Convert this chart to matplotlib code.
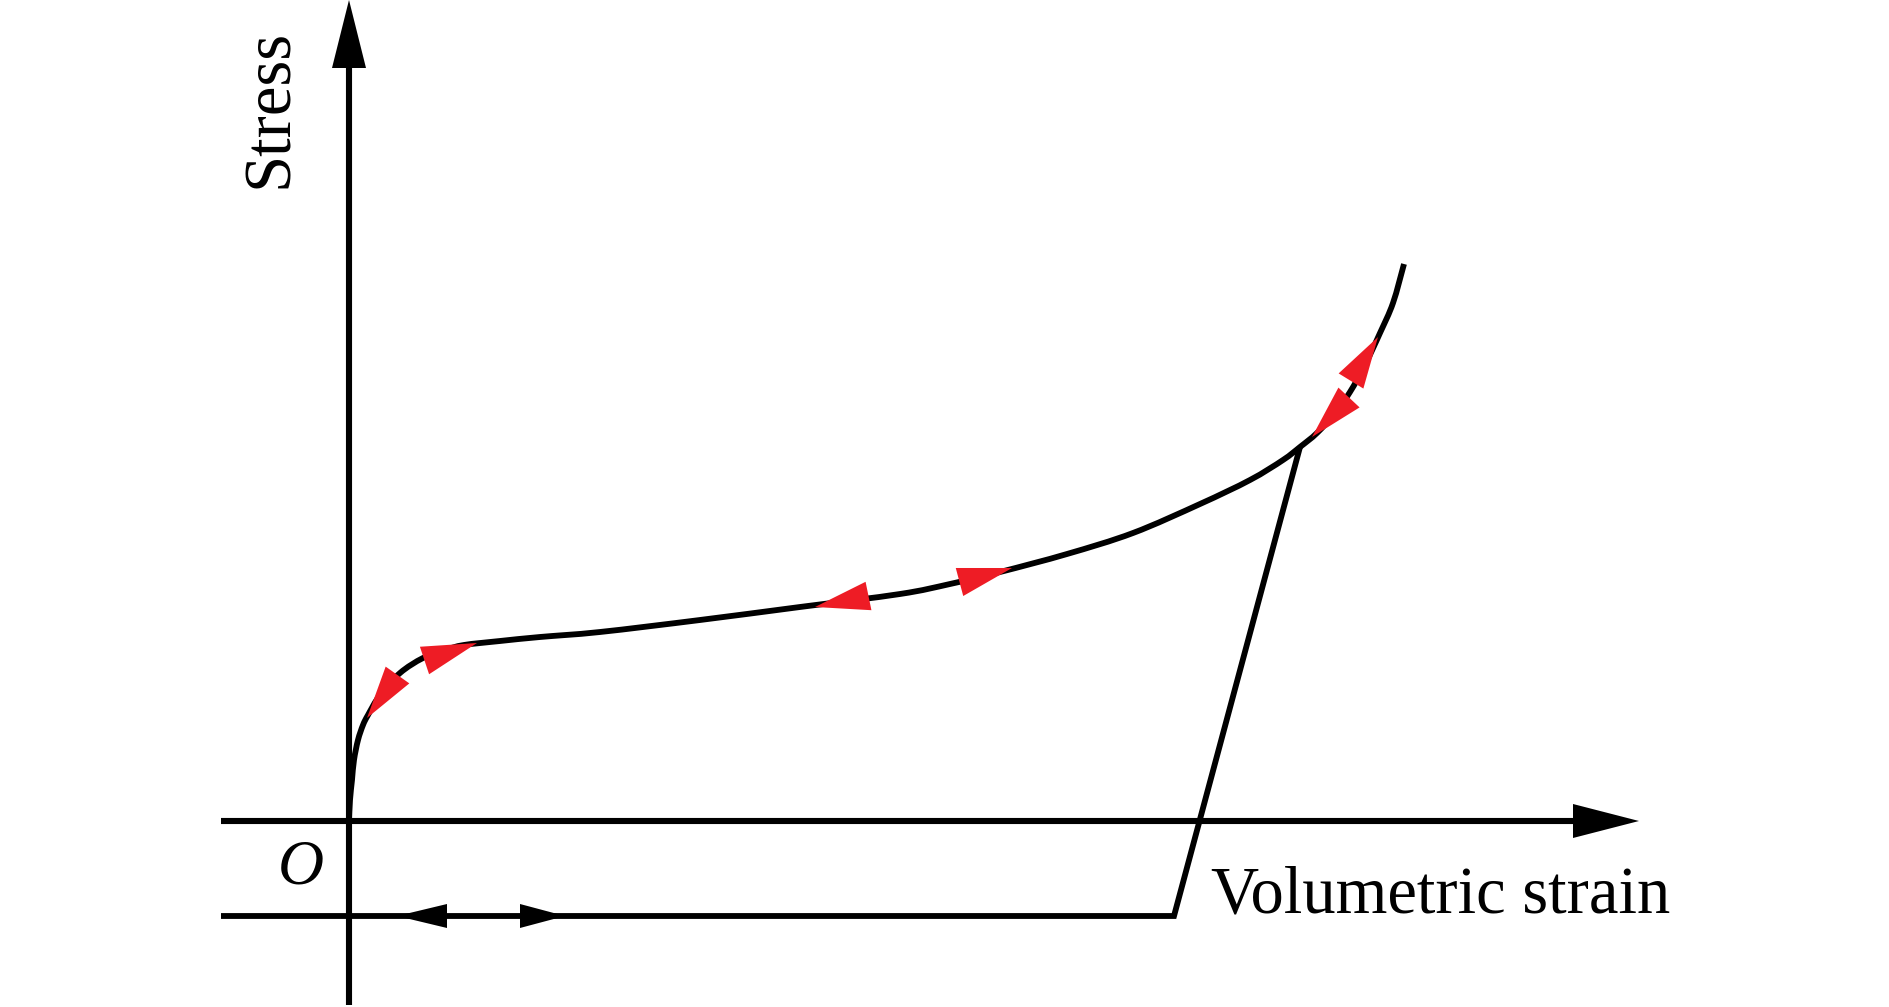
import numpy as np
import matplotlib.pyplot as plt
from matplotlib.path import Path
from matplotlib.patches import PathPatch

# Loading curve (volumetric strain vs stress), arbitrary units
strain = [0, 0.01, 0.03, 0.05, 0.09, 0.14, 0.19, 0.31, 0.51, 0.74, 0.96, 1.15, 1.51,
          1.91, 2.51, 3.51, 4.51, 5.51, 6.01, 6.51, 7.18, 7.84, 8.51, 9.01, 9.34,
          9.51, 9.68, 9.86, 10.01, 10.16, 10.31, 10.44, 10.55]
stress = [0, 0.21, 0.41, 0.61, 0.81, 0.96, 1.06, 1.26, 1.48, 1.63, 1.71, 1.76, 1.80,
          1.84, 1.89, 2.01, 2.14, 2.27, 2.37, 2.49, 2.67, 2.88, 3.17, 3.41, 3.61,
          3.74, 3.88, 4.08, 4.29, 4.56, 4.88, 5.18, 5.57]

# Unloading line and the lower baseline
unload_strain = [9.51, 8.25, -1.28]
unload_stress = [3.74, -0.95, -0.95]

# Red direction markers: tip and base centre of each triangle
red_tips = [(0.18, 1.03), (1.28, 1.78), (4.66, 2.14), (6.63, 2.53), (9.63, 3.84), (10.29, 4.84)]
red_bases = [(0.485, 1.46), (0.755, 1.605), (5.195, 2.25), (6.105, 2.39), (10.0, 4.235), (10.02, 4.40)]

# Black markers on the baseline
black_tips = [(0.48, -0.95), (2.16, -0.95)]
black_bases = [(0.98, -0.95), (1.71, -0.95)]

x_axis = [-1.28, 12.9]
y_axis = [-1.84, 8.21]

RED = '#EE1C25'
AXIS_LW = 4.4
CURVE_LW = 4.2


def triangle(ax, tip, base, half, color):
    tip = np.asarray(tip, float)
    base = np.asarray(base, float)
    d = tip - base
    n = np.array([-d[1], d[0]]) / np.hypot(*d)
    pts = np.array([tip, base + n * half, base - n * half])
    ax.fill(pts[:, 0], pts[:, 1], color=color, lw=0, zorder=5)


def smooth_path(xs, ys):
    # cubic bezier through the read points (catmull-rom tangents)
    p = np.column_stack([xs, ys]).astype(float)
    ext = np.vstack([p[0], p, p[-1]])
    verts = [p[0]]
    codes = [Path.MOVETO]
    for i in range(len(p) - 1):
        p0, p1, p2, p3 = ext[i], ext[i + 1], ext[i + 2], ext[i + 3]
        verts += [p1 + (p2 - p0) / 6, p2 - (p3 - p1) / 6, p2]
        codes += [Path.CURVE4] * 3
    return Path(verts, codes)


fig = plt.figure(figsize=(18.9, 10.07), dpi=100)
ax = fig.add_axes([0, 0, 1, 1])
ax.set_xlim(-3.49, 15.41)
ax.set_ylim(-1.86, 8.21)
ax.axis('off')

# axes with arrow heads
ax.plot([x_axis[0], x_axis[1] - 0.6], [0, 0], color='black', lw=AXIS_LW, solid_capstyle='butt')
triangle(ax, (x_axis[1], 0), (x_axis[1] - 0.66, 0), 0.17, 'black')
ax.plot([0, 0], [y_axis[0], y_axis[1] - 0.6], color='black', lw=AXIS_LW, solid_capstyle='butt')
triangle(ax, (0, y_axis[1]), (0, y_axis[1] - 0.68), 0.17, 'black')

# curves
ax.add_patch(PathPatch(smooth_path(strain, stress), fill=False, edgecolor='black',
                       lw=CURVE_LW, capstyle='butt', zorder=3))
ax.plot(unload_strain, unload_stress, color='black', lw=CURVE_LW, solid_joinstyle='miter',
        solid_capstyle='butt', zorder=3)

for t, b in zip(red_tips, red_bases):
    triangle(ax, t, b, 0.145, RED)
for t, b in zip(black_tips, black_bases):
    triangle(ax, t, b, 0.12, 'black')

serif = ['Liberation Serif', 'DejaVu Serif']
ax.text(-0.79, 7.13, 'Stress', rotation=90, ha='center', va='center',
        fontsize=48, family=serif)
ax.text(8.62, -0.92, 'Volumetric strain', ha='left', va='baseline',
        fontsize=48, family=serif)
ax.text(-0.48, -0.47, 'O', ha='center', va='center', fontsize=46,
        family=serif, style='italic')

fig.savefig('out.png', dpi=100)
